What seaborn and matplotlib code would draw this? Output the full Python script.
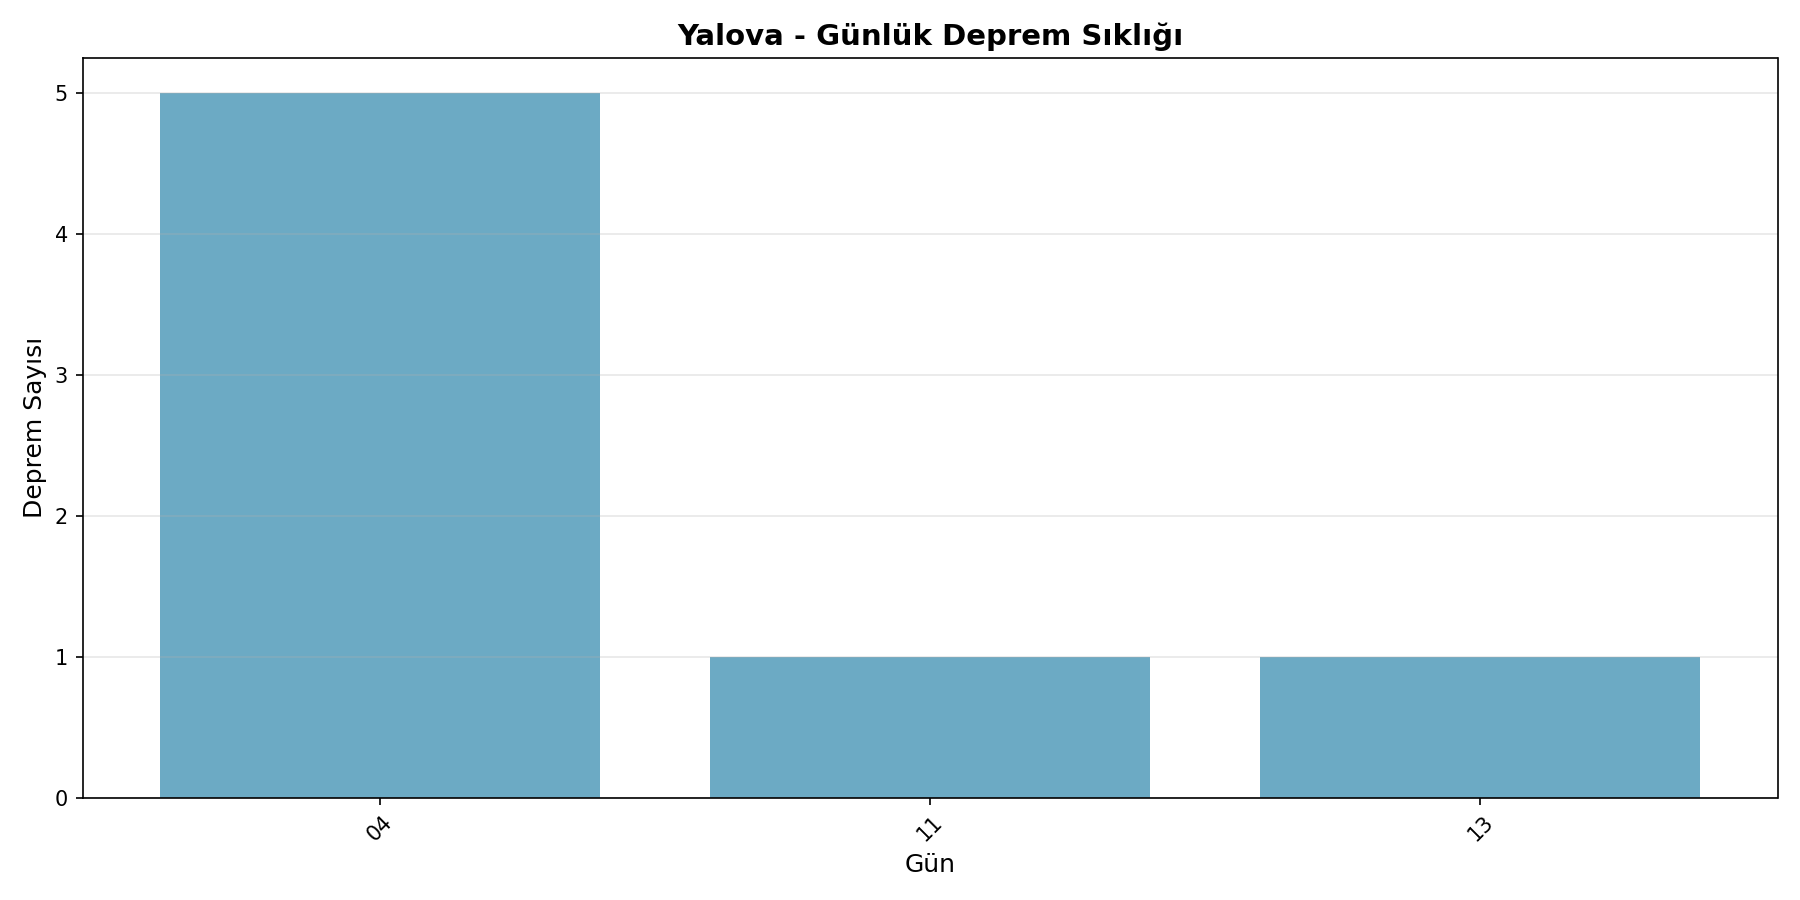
import matplotlib
matplotlib.use("Agg")
import matplotlib.pyplot as plt
import pandas as pd
import seaborn as sns

plt.rcParams['font.family'] = ['DejaVu Sans']

days = ['04', '11', '13']
counts = [5, 1, 1]

df = pd.DataFrame({'day': days, 'count': counts})

fig, ax = plt.subplots(figsize=(12, 6), dpi=150)

sns.barplot(
    data=df, x='day', y='count',
    color='#2E86AB', alpha=0.7, saturation=1,
    width=0.8, ax=ax
)

# same padding as a plain matplotlib bar chart
n = len(days)
pad = 0.05 * (n - 1 + 0.8)
ax.set_xlim(-0.4 - pad, n - 1 + 0.4 + pad)

ax.set_title('Yalova - Günlük Deprem Sıklığı', fontsize=14, fontweight='bold')
ax.set_xlabel('Gün', fontsize=12)
ax.set_ylabel('Deprem Sayısı', fontsize=12)
ax.tick_params(axis='x', rotation=45)
ax.grid(axis='y', alpha=0.3)

plt.tight_layout()
fig.savefig('out.png', dpi=150)
